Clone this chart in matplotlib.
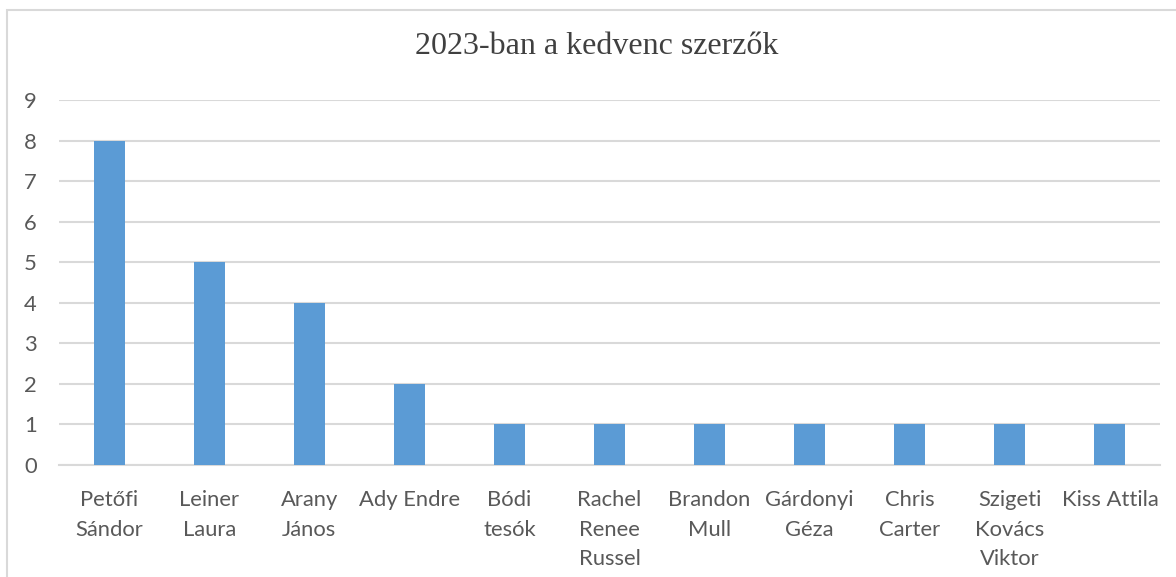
import matplotlib.pyplot as plt
from matplotlib.patches import Rectangle

# ---- DATA ---- #
authors = ["Petőfi\nSándor", "Leiner\nLaura", "Arany\nJános", "Ady Endre", "Bódi\ntesók",
           "Rachel\nRenee\nRussel", "Brandon\nMull", "Gárdonyi\nGéza", "Chris\nCarter",
           "Szigeti\nKovács\nViktor", "Kiss Attila"]
counts = [8, 5, 4, 2, 1, 1, 1, 1, 1, 1, 1]
y_ticks = list(range(0, 10))

# ---- PLOT ---- #
W, H = 1176, 577
fig = plt.figure(figsize=(W / 100, H / 100), dpi=100)
ax = fig.add_axes([59 / W, 1 - 465 / H, (1160 - 59) / W, (465 - 100) / H])

text_color = "#595959"
grid_color = "#d9d9d9"

ax.bar(range(len(authors)), counts, width=0.31, color="#5b9bd5", zorder=3)
ax.set_xlim(-0.5, len(authors) - 0.5)
ax.set_ylim(0, 9)
ax.set_yticks(y_ticks)
ax.yaxis.grid(True, color=grid_color, linewidth=1.5, zorder=0)
ax.set_xticks(range(len(authors)))
ax.set_xticklabels(authors, fontfamily="Lato", fontsize=15.8, color=text_color,
                   linespacing=1.6)
for lab in ax.get_yticklabels():
    lab.set_fontfamily("Lato")
    lab.set_fontsize(15.8)
    lab.set_color(text_color)
ax.tick_params(axis="both", length=0)
ax.tick_params(axis="x", pad=18)
ax.tick_params(axis="y", pad=16)
for side in ["top", "right", "left"]:
    ax.spines[side].set_visible(False)
ax.spines["bottom"].set_color(grid_color)
ax.spines["bottom"].set_linewidth(1.5)

fig.text(597 / W, 1 - 47 / H, "2023-ban a kedvenc szerzők", ha="center", va="center",
         fontfamily="Liberation Serif", fontsize=23, color="#404040")

# chart border
fig.patches.append(Rectangle((7 / W, -0.05), 1.1, 1.05 - 10 / H, transform=fig.transFigure,
                             fill=False, edgecolor=grid_color, linewidth=1.5))

plt.savefig("out.png", dpi=100)
